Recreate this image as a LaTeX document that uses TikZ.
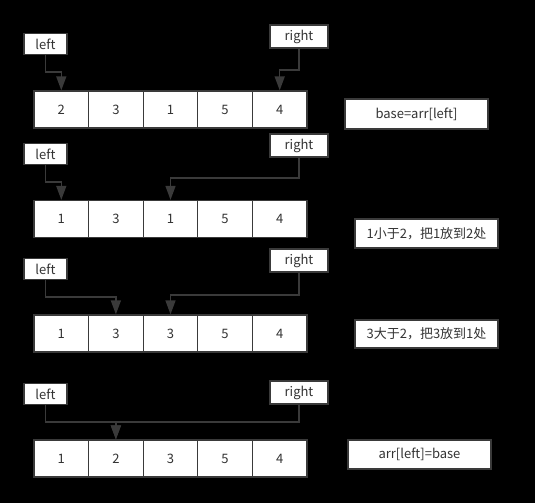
\documentclass[tikz,border=0pt]{standalone}
\usepackage{fontspec}
\setmainfont{Noto Sans CJK SC}
\usetikzlibrary{arrows.meta,positioning,calc}

\definecolor{edge}{HTML}{3A3A3A}
\definecolor{ink}{HTML}{333333}

\tikzset{
  cellbox/.style={draw=edge, line width=1.3pt, fill=white, text=ink,
    minimum width=54.6pt, minimum height=37pt, inner sep=0pt},
  ptrbox/.style={draw=edge, line width=1.3pt, fill=white, text=ink,
    minimum height=21pt, inner sep=0pt},
  notebox/.style={draw=edge, line width=1.3pt, fill=white, text=ink,
    minimum width=143pt, minimum height=29pt, inner sep=0pt},
  ptrline/.style={draw=edge, line width=1.5pt,
    -{Triangle[width=10pt,length=14pt]}}
}

\begin{document}
\begin{tikzpicture}[x=1pt, y=-1pt, font=\fontsize{13}{15}\selectfont]
  \fill[black] (0,0) rectangle (535,503);
  \useasboundingbox (0,0) rectangle (535,503);

  % row 1
  \foreach \v [count=\i] in {2,3,1,5,4}
    \node[cellbox] (a1\i) at ({34+54.6*(\i-0.5)},109.5) {\v};
  \node[ptrbox, minimum width=43pt] (l1) at (45.5,44) {left};
  \node[ptrbox, minimum width=58pt, minimum height=23pt] (r1) at (299,36.5) {right};
  \node[notebox, minimum height=30pt] (n1) at (416.5,114) {base=arr[left]};
  \coordinate (el1) at (0,72);
  \coordinate (er1) at (0,70);
  \draw[ptrline] (l1.south) |- (a11.north|-el1) -- (a11.north);
  \draw[ptrline] (r1.south) |- (a15.north|-er1) -- (a15.north);

  % row 2
  \foreach \v [count=\i] in {1,3,1,5,4}
    \node[cellbox] (a2\i) at ({34+54.6*(\i-0.5)},219) {\v};
  \node[ptrbox, minimum width=43pt] (l2) at (45.5,154) {left};
  \node[ptrbox, minimum width=58pt, minimum height=23pt] (r2) at (299,145.5) {right};
  \node[notebox] (n2) at (426.5,233.5) {1小于2，把1放到2处};
  \coordinate (el2) at (0,182);
  \coordinate (er2) at (0,178);
  \draw[ptrline] (l2.south) |- (a21.north|-el2) -- (a21.north);
  \draw[ptrline] (r2.south) |- (a23.north|-er2) -- (a23.north);

  % row 3
  \foreach \v [count=\i] in {1,3,3,5,4}
    \node[cellbox] (a3\i) at ({34+54.6*(\i-0.5)},333.5) {\v};
  \node[ptrbox, minimum width=43pt] (l3) at (45.5,269) {left};
  \node[ptrbox, minimum width=58pt, minimum height=23pt] (r3) at (299,260.5) {right};
  \node[notebox, minimum height=28pt] (n3) at (426.5,334) {3大于2，把3放到1处};
  \coordinate (el3) at (0,297);
  \coordinate (er3) at (0,295);
  \draw[ptrline] (l3.south) |- (a32.north|-el3) -- (a32.north);
  \draw[ptrline] (r3.south) |- (a33.north|-er3) -- (a33.north);

  % row 4
  \foreach \v [count=\i] in {1,2,3,5,4}
    \node[cellbox] (a4\i) at ({34+54.6*(\i-0.5)},458.5) {\v};
  \node[ptrbox, minimum width=43pt] (l4) at (45.5,394) {left};
  \node[ptrbox, minimum width=58pt, minimum height=23pt] (r4) at (299,392.5) {right};
  \node[notebox] (n4) at (419.5,454.5) {arr[left]=base};
  \coordinate (e4) at (0,422);
  \draw[ptrline] (l4.south) |- (a42.north|-e4) -- (a42.north);
  \draw[ptrline] (r4.south) |- (a42.north|-e4) -- (a42.north);
\end{tikzpicture}
\end{document}
